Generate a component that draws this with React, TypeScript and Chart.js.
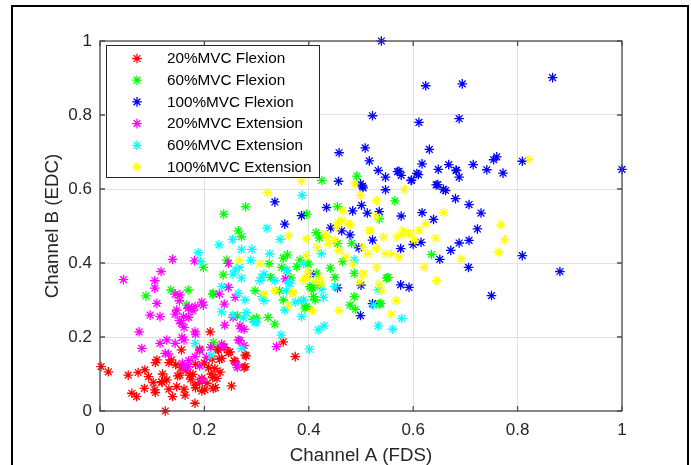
import React, { useEffect, useRef } from "react";
import { Chart, registerables } from "chart.js";

Chart.register(...registerables);

// ---- data (Channel A (FDS), Channel B (EDC)) ----
const flexion20: number[][] = [
  [0.002, 0.120], [0.016, 0.106], [0.054, 0.097], [0.061, 0.048], [0.070, 0.039], [0.073, 0.104],
  [0.086, 0.111], [0.093, 0.093], [0.085, 0.061], [0.105, 0.057], [0.109, 0.138], [0.125, 0.0],
  [0.118, 0.079], [0.128, 0.084], [0.137, 0.138], [0.139, 0.039], [0.156, 0.165], [0.153, 0.097],
  [0.163, 0.043], [0.182, 0.021], [0.182, 0.070], [0.195, 0.088], [0.211, 0.214], [0.201, 0.057],
  [0.217, 0.061], [0.224, 0.088], [0.227, 0.165], [0.220, 0.115], [0.249, 0.160], [0.252, 0.068],
  [0.259, 0.133], [0.278, 0.151], [0.278, 0.120], [0.351, 0.187], [0.374, 0.147], [0.233, 0.142],
  [0.147, 0.066], [0.172, 0.097], [0.102, 0.077], [0.119, 0.077], [0.132, 0.059], [0.132, 0.131],
  [0.149, 0.095], [0.155, 0.117], [0.161, 0.059], [0.174, 0.086], [0.178, 0.099], [0.183, 0.063],
  [0.191, 0.077], [0.195, 0.054], [0.208, 0.117], [0.216, 0.090], [0.221, 0.063], [0.225, 0.167],
  [0.229, 0.140], [0.238, 0.172], [0.246, 0.158], [0.257, 0.136], [0.276, 0.117], [0.280, 0.149],
  [0.191, 0.167], [0.183, 0.126], [0.106, 0.131], [0.106, 0.050], [0.205, 0.075], [0.213, 0.100],
  [0.230, 0.105], [0.215, 0.140], [0.200, 0.130], [0.165, 0.110], [0.145, 0.125], [0.120, 0.100],
];

const flexion60: number[][] = [
  [0.492, 0.635], [0.425, 0.623], [0.237, 0.532], [0.279, 0.552], [0.265, 0.487], [0.271, 0.471],
  [0.396, 0.532], [0.414, 0.482], [0.420, 0.468], [0.455, 0.552], [0.565, 0.568], [0.535, 0.519],
  [0.455, 0.453], [0.482, 0.453], [0.635, 0.423], [0.359, 0.422], [0.465, 0.404], [0.383, 0.408],
  [0.441, 0.386], [0.487, 0.372], [0.450, 0.361], [0.549, 0.359], [0.402, 0.336], [0.412, 0.300],
  [0.487, 0.309], [0.479, 0.286], [0.489, 0.275], [0.538, 0.291], [0.393, 0.278], [0.358, 0.381],
  [0.351, 0.300], [0.415, 0.372], [0.399, 0.397], [0.348, 0.388], [0.324, 0.398], [0.327, 0.361],
  [0.297, 0.325], [0.344, 0.325], [0.407, 0.334], [0.322, 0.253], [0.335, 0.235], [0.293, 0.248],
  [0.263, 0.257], [0.236, 0.368], [0.216, 0.316], [0.088, 0.311], [0.136, 0.327], [0.169, 0.327],
  [0.217, 0.318], [0.166, 0.286], [0.217, 0.185], [0.243, 0.408], [0.198, 0.388], [0.300, 0.251],
  [0.552, 0.361], [0.535, 0.289], [0.351, 0.413], [0.377, 0.390], [0.405, 0.332], [0.409, 0.309],
  [0.395, 0.282], [0.366, 0.360], [0.420, 0.340],
];

const flexion100: number[][] = [
  [0.539, 1.0], [0.867, 0.901], [0.624, 0.879], [0.694, 0.884], [0.522, 0.798], [0.611, 0.780],
  [0.688, 0.790], [0.458, 0.698], [0.508, 0.711], [0.631, 0.707], [1.0, 0.653], [0.516, 0.676],
  [0.809, 0.675], [0.760, 0.687], [0.754, 0.679], [0.715, 0.666], [0.741, 0.652], [0.772, 0.643],
  [0.617, 0.668], [0.668, 0.666], [0.648, 0.653], [0.683, 0.650], [0.688, 0.632], [0.573, 0.648],
  [0.577, 0.637], [0.533, 0.650], [0.547, 0.632], [0.596, 0.623], [0.610, 0.639], [0.457, 0.621],
  [0.499, 0.614], [0.504, 0.603], [0.547, 0.598], [0.647, 0.612], [0.662, 0.596], [0.681, 0.574],
  [0.707, 0.558], [0.730, 0.535], [0.335, 0.565], [0.354, 0.505], [0.386, 0.528], [0.434, 0.550],
  [0.484, 0.541], [0.501, 0.556], [0.512, 0.535], [0.535, 0.539], [0.577, 0.527], [0.617, 0.536],
  [0.639, 0.518], [0.442, 0.495], [0.463, 0.487], [0.479, 0.476], [0.723, 0.492], [0.707, 0.461],
  [0.688, 0.454], [0.672, 0.434], [0.615, 0.456], [0.600, 0.450], [0.576, 0.439], [0.496, 0.441],
  [0.522, 0.462], [0.651, 0.410], [0.706, 0.388], [0.809, 0.420], [0.881, 0.377], [0.750, 0.312],
  [0.403, 0.370], [0.455, 0.333], [0.500, 0.340], [0.576, 0.341], [0.592, 0.334], [0.499, 0.258],
  [0.522, 0.290], [0.570, 0.647], [0.597, 0.624], [0.607, 0.642], [0.658, 0.599], [0.644, 0.611],
  [0.503, 0.608], [0.682, 0.651],
];

const extension20: number[][] = [
  [0.045, 0.355], [0.117, 0.377], [0.139, 0.410], [0.181, 0.406], [0.246, 0.399], [0.105, 0.352],
  [0.105, 0.332], [0.153, 0.314], [0.109, 0.291], [0.096, 0.259], [0.115, 0.255], [0.075, 0.214],
  [0.080, 0.169], [0.147, 0.273], [0.156, 0.237], [0.115, 0.183], [0.128, 0.192], [0.144, 0.183],
  [0.161, 0.192], [0.182, 0.214], [0.125, 0.156], [0.158, 0.129], [0.169, 0.120], [0.195, 0.084],
  [0.182, 0.147], [0.262, 0.124], [0.239, 0.232], [0.265, 0.192], [0.271, 0.223], [0.338, 0.174],
  [0.160, 0.255], [0.169, 0.277], [0.182, 0.282], [0.198, 0.286], [0.236, 0.174], [0.144, 0.316],
  [0.152, 0.298], [0.144, 0.262], [0.152, 0.244], [0.161, 0.226], [0.157, 0.199], [0.170, 0.280],
  [0.178, 0.271], [0.195, 0.294], [0.170, 0.253], [0.183, 0.208], [0.191, 0.163], [0.204, 0.145],
  [0.229, 0.316], [0.238, 0.289], [0.246, 0.334], [0.259, 0.307], [0.255, 0.253], [0.268, 0.230],
  [0.276, 0.221], [0.268, 0.190], [0.263, 0.118], [0.276, 0.177], [0.233, 0.181], [0.212, 0.172],
  [0.191, 0.122], [0.170, 0.136], [0.161, 0.117], [0.355, 0.357], [0.131, 0.154],
];

const extension60: number[][] = [
  [0.387, 0.583], [0.320, 0.494], [0.345, 0.464], [0.254, 0.464], [0.228, 0.449], [0.188, 0.428],
  [0.193, 0.404], [0.271, 0.437], [0.291, 0.437], [0.325, 0.425], [0.289, 0.407], [0.259, 0.381],
  [0.271, 0.359], [0.310, 0.361], [0.233, 0.336], [0.265, 0.318], [0.278, 0.300], [0.310, 0.309],
  [0.280, 0.266], [0.297, 0.239], [0.233, 0.268], [0.255, 0.259], [0.275, 0.251], [0.300, 0.241],
  [0.347, 0.205], [0.182, 0.183], [0.213, 0.151], [0.271, 0.169], [0.314, 0.298], [0.357, 0.325],
  [0.386, 0.298], [0.386, 0.255], [0.429, 0.230], [0.418, 0.219], [0.401, 0.167], [0.533, 0.230],
  [0.561, 0.221], [0.578, 0.250], [0.533, 0.327], [0.524, 0.286], [0.487, 0.408], [0.424, 0.425],
  [0.390, 0.398], [0.357, 0.379], [0.314, 0.370], [0.306, 0.352], [0.335, 0.352], [0.361, 0.348],
  [0.425, 0.329], [0.428, 0.307], [0.374, 0.294], [0.267, 0.388], [0.255, 0.370], [0.450, 0.336],
  [0.364, 0.345], [0.390, 0.300], [0.354, 0.273],
];

const extension100: number[][] = [
  [0.822, 0.680], [0.386, 0.621], [0.321, 0.590], [0.488, 0.614], [0.499, 0.583], [0.530, 0.569],
  [0.583, 0.599], [0.530, 0.524], [0.463, 0.515], [0.475, 0.506], [0.361, 0.474], [0.395, 0.465],
  [0.432, 0.479], [0.450, 0.461], [0.516, 0.488], [0.543, 0.470], [0.569, 0.470], [0.581, 0.488],
  [0.594, 0.479], [0.611, 0.488], [0.624, 0.506], [0.658, 0.536], [0.643, 0.467], [0.768, 0.503],
  [0.775, 0.463], [0.764, 0.429], [0.692, 0.411], [0.621, 0.388], [0.645, 0.352], [0.530, 0.388],
  [0.547, 0.425], [0.573, 0.416], [0.558, 0.425], [0.503, 0.442], [0.513, 0.425], [0.395, 0.420],
  [0.416, 0.442], [0.437, 0.452], [0.458, 0.434], [0.471, 0.416], [0.484, 0.398], [0.505, 0.370],
  [0.267, 0.407], [0.306, 0.398], [0.314, 0.316], [0.335, 0.325], [0.361, 0.285], [0.369, 0.321],
  [0.399, 0.366], [0.390, 0.352], [0.407, 0.271], [0.458, 0.271], [0.539, 0.325], [0.535, 0.343],
  [0.567, 0.298], [0.558, 0.262], [0.413, 0.352], [0.424, 0.343], [0.454, 0.497], [0.465, 0.543],
  [0.457, 0.509], [0.479, 0.503], [0.434, 0.471], [0.517, 0.487], [0.530, 0.440], [0.578, 0.476],
  [0.591, 0.480], [0.603, 0.462], [0.504, 0.372], [0.498, 0.349], [0.421, 0.359], [0.393, 0.359],
  [0.399, 0.377], [0.370, 0.318],
];

const seriesLabels = [
  "20%MVC Flexion", "60%MVC Flexion", "100%MVC Flexion",
  "20%MVC Extension", "60%MVC Extension", "100%MVC Extension",
];
const seriesColors = ["#ff0000", "#00ff00", "#0000ff", "#ff00ff", "#00ffff", "#ffff00"];
const seriesData = [flexion20, flexion60, flexion100, extension20, extension60, extension100];

const xTickValues = [0, 0.2, 0.4, 0.6, 0.8, 1];
const xTickLabels = ["0", "0.2", "0.4", "0.6", "0.8", "1"];
const yTickValues = [0, 0.2, 0.4, 0.6, 0.8, 1];
const yTickLabels = ["0", "0.2", "0.4", "0.6", "0.8", "1"];

const FONT = "'Liberation Sans', Arial, Helvetica, sans-serif";
const TEXT = "#262626";
const MARK_R = 4.8;

function drawStar(ctx: CanvasRenderingContext2D, x: number, y: number, r: number, color: string) {
  ctx.save();
  ctx.strokeStyle = color;
  ctx.lineWidth = 1.3;
  ctx.beginPath();
  for (let k = 0; k < 4; k++) {
    const a = (k * Math.PI) / 4;
    const dx = Math.cos(a) * r;
    const dy = Math.sin(a) * r;
    ctx.moveTo(x - dx, y - dy);
    ctx.lineTo(x + dx, y + dy);
  }
  ctx.stroke();
  ctx.restore();
}

const decorPlugin = {
  id: "decor",
  beforeDraw(chart: any) {
    const ctx = chart.ctx;
    ctx.save();
    ctx.fillStyle = "#ffffff";
    ctx.fillRect(0, 0, chart.width, chart.height);
    ctx.restore();
  },
  afterDatasetsDraw(chart: any) {
    const ctx: CanvasRenderingContext2D = chart.ctx;
    const { left, right, top, bottom } = chart.chartArea;
    const xs = chart.scales.x;
    const ys = chart.scales.y;
    ctx.save();
    // axes box
    ctx.strokeStyle = "#4d4d4d";
    ctx.lineWidth = 1.3;
    ctx.strokeRect(left, top, right - left, bottom - top);
    // inward ticks
    ctx.beginPath();
    const tl = 5;
    xTickValues.forEach((v) => {
      const px = xs.getPixelForValue(v);
      ctx.moveTo(px, bottom);
      ctx.lineTo(px, bottom - tl);
      ctx.moveTo(px, top);
      ctx.lineTo(px, top + tl);
    });
    yTickValues.forEach((v) => {
      const py = ys.getPixelForValue(v);
      ctx.moveTo(left, py);
      ctx.lineTo(left + tl, py);
      ctx.moveTo(right, py);
      ctx.lineTo(right - tl, py);
    });
    ctx.stroke();

    // legend
    const lx = left + 6;
    const ly = top + 4;
    const lw = 213;
    const lh = 132;
    ctx.fillStyle = "#ffffff";
    ctx.fillRect(lx, ly, lw, lh);
    ctx.strokeStyle = "#262626";
    ctx.lineWidth = 1;
    ctx.strokeRect(lx + 0.5, ly + 0.5, lw, lh);
    ctx.font = `15.3px ${FONT}`;
    ctx.textBaseline = "middle";
    ctx.textAlign = "left";
    seriesLabels.forEach((label, i) => {
      const cy = ly + 13.5 + i * 21.7;
      drawStar(ctx, lx + 31, cy, MARK_R, seriesColors[i]);
      ctx.fillStyle = "#000000";
      ctx.fillText(label, lx + 61, cy + 0.5);
    });

    // outer frame
    ctx.strokeStyle = "#000000";
    ctx.lineWidth = 2;
    ctx.strokeRect(12, 6, 676, 520);
    ctx.restore();
  },
};

export default function App() {
  const ref = useRef<HTMLCanvasElement | null>(null);
  useEffect(() => {
    document.body.style.margin = "0";
    const canvas = ref.current;
    if (!canvas) return;
    const datasets = seriesData.map((d, i) => ({
      label: seriesLabels[i],
      data: d.map(([x, y]) => ({ x, y })),
      pointStyle: "star",
      pointRadius: MARK_R,
      pointBorderWidth: 1.3,
      borderColor: seriesColors[i],
      backgroundColor: seriesColors[i],
      showLine: false,
      clip: false as any,
      order: 6 - i,
    }));
    const chart = new Chart(canvas, {
      type: "scatter",
      data: { datasets: datasets as any },
      options: {
        animation: false,
        responsive: false,
        events: [],
        layout: { padding: { left: 0, right: 69, top: 41, bottom: 0 } },
        plugins: { legend: { display: false }, tooltip: { enabled: false } },
        scales: {
          x: {
            type: "linear",
            position: "bottom",
            min: 0,
            max: 1,
            afterFit: (s: any) => { s.height = 54; },
            afterBuildTicks: (s: any) => { s.ticks = xTickValues.map((v) => ({ value: v })); },
            grid: { color: "#e1e1e1", lineWidth: 1, drawTicks: false },
            border: { display: false },
            ticks: {
              padding: 9,
              color: TEXT,
              font: { family: FONT, size: 17 },
              maxRotation: 0,
              callback: (_v: any, i: number) => xTickLabels[i],
            },
            title: {
              display: true,
              text: "Channel A (FDS)",
              color: TEXT,
              font: { family: FONT, size: 18.7, lineHeight: 1 },
              padding: { top: 0, bottom: 0 },
            },
          },
          y: {
            type: "linear",
            position: "left",
            min: 0,
            max: 1,
            afterFit: (s: any) => { s.width = 100; },
            afterBuildTicks: (s: any) => { s.ticks = yTickValues.map((v) => ({ value: v })); },
            grid: { color: "#e1e1e1", lineWidth: 1, drawTicks: false },
            border: { display: false },
            ticks: {
              padding: 8,
              color: TEXT,
              font: { family: FONT, size: 17 },
              callback: (_v: any, i: number) => yTickLabels[i],
            },
            title: {
              display: true,
              text: "Channel B (EDC)",
              color: TEXT,
              font: { family: FONT, size: 18.7, lineHeight: 1 },
              padding: { top: 44, bottom: 0 },
            },
          },
        },
      },
      plugins: [decorPlugin],
    });
    return () => chart.destroy();
  }, []);
  return (
    <div style={{ position: "absolute", left: 0, top: 0, width: 691, height: 465, background: "#fff" }}>
      <canvas ref={ref} width={691} height={465} style={{ display: "block" }} />
    </div>
  );
}
